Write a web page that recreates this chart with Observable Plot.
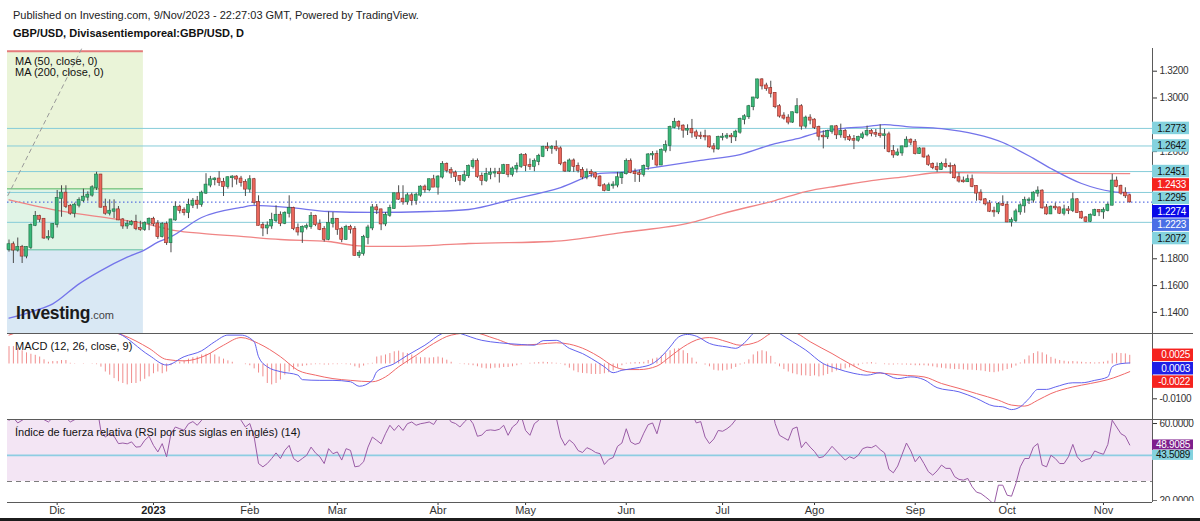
<!DOCTYPE html>
<html>
<head>
<meta charset="utf-8">
<script src="https://cdn.jsdelivr.net/npm/d3@7"></script>
<script src="https://cdn.jsdelivr.net/npm/@observablehq/plot@0.6"></script>
<style>
  html, body { margin: 0; padding: 0; background: #fff; }
  #root { position: relative; width: 1200px; height: 521px; overflow: hidden; font-family: "Liberation Sans", Arial, sans-serif; color: #111; }
  .abs { position: absolute; white-space: nowrap; }
  .hline { position: absolute; height: 1px; background: #5a5a5a; }
</style>
</head>
<body>
<div id="root">
  <div id="pricePanel" class="abs" style="left:0;top:45px;"></div>
  <div id="macdPanel" class="abs" style="left:0;top:333px;"></div>
  <div id="rsiPanel" class="abs" style="left:0;top:419px;"></div>

  <div class="abs" style="left:13px;top:8px;font-size:11px;line-height:14px;color:#222;">Published on Investing.com, 9/Nov/2023 - 22:27:03 GMT, Powered by TradingView.</div>
  <div class="abs" style="left:13px;top:26px;font-size:11px;line-height:14px;font-weight:bold;color:#111;">GBP/USD, Divisasentiemporeal:GBP/USD, D</div>

  <div class="abs" style="left:15px;top:56px;font-size:11px;line-height:11px;color:#111;">MA (50, close, 0)<br>MA (200, close, 0)</div>
  <div class="abs" style="left:15px;top:339px;font-size:11px;line-height:14px;color:#111;">MACD (12, 26, close, 9)</div>
  <div class="abs" style="left:15px;top:425px;font-size:11px;line-height:14px;color:#111;">Índice de fuerza relativa (RSI por sus siglas en inglés) (14)</div>

  <div class="abs" style="left:16px;top:303px;line-height:20px;">
    <span style="font-size:17.5px;font-weight:bold;color:#1b1b1b;letter-spacing:-0.3px;">Investing</span><span style="font-size:11px;color:#444;">.com</span>
  </div>

  <div class="hline" style="left:7px;top:333px;width:1186px;"></div>
  <div class="hline" style="left:7px;top:419px;width:1186px;"></div>
  <div class="abs" style="left:0;top:518px;width:1200px;height:3px;background:#1c1c1c;"></div>
</div>

<script>
// ------------------------------------------------------------------
// DATA
// Daily GBP/USD candles, 16 Nov 2022 -> 9 Nov 2023 (weekday bars)
// ------------------------------------------------------------------
const opens = [
1.1870,1.1905,1.1865,1.1885,1.1820,1.1885,1.2050,1.2115,1.2095,1.1955,
1.1960,1.2055,1.2250,1.2290,1.2190,1.2140,1.2200,1.2235,1.2260,1.2275,
1.2330,1.2425,1.2185,1.2140,1.2155,1.2165,1.2090,1.2045,1.2055,1.2070,
1.2025,1.2020,1.2065,1.2095,1.2060,1.1965,1.2055,1.1920,1.2090,1.2185,
1.2160,1.2145,1.2200,1.2230,1.2205,1.2290,1.2350,1.2390,1.2395,1.2370,
1.2340,1.2405,1.2410,1.2395,1.2370,1.2320,1.2390,1.2220,1.2050,1.2030,
1.2045,1.2085,1.2125,1.2065,1.2140,1.2175,1.2025,1.2000,1.2035,1.2040,
1.2115,1.2055,1.2020,1.1945,1.2065,1.2095,1.2020,1.1945,1.2035,1.2020,
1.1825,1.1840,1.1960,1.2030,1.2180,1.2165,1.2060,1.2125,1.2175,1.2285,
1.2245,1.2225,1.2270,1.2235,1.2275,1.2335,1.2315,1.2390,1.2335,1.2410,
1.2505,1.2460,1.2440,1.2415,1.2385,1.2420,1.2490,1.2525,1.2415,1.2385,
1.2430,1.2440,1.2442,1.2435,1.2495,1.2430,1.2470,1.2490,1.2570,1.2495,
1.2490,1.2525,1.2565,1.2630,1.2625,1.2630,1.2620,1.2510,1.2455,1.2530,
1.2490,1.2460,1.2410,1.2445,1.2435,1.2410,1.2345,1.2310,1.2345,1.2350,
1.2405,1.2435,1.2525,1.2445,1.2435,1.2430,1.2490,1.2575,1.2578,1.2500,
1.2610,1.2645,1.2780,1.2818,1.2790,1.2760,1.2765,1.2740,1.2715,1.2712,
1.2710,1.2635,1.2620,1.2705,1.2708,1.2715,1.2710,1.2745,1.2840,1.2860,
1.2935,1.3000,1.3135,1.3090,1.3070,1.3035,1.2935,1.2865,1.2850,1.2820,
1.2890,1.2935,1.2790,1.2850,1.2835,1.2780,1.2715,1.2710,1.2750,1.2785,
1.2725,1.2750,1.2705,1.2690,1.2685,1.2705,1.2725,1.2750,1.2735,1.2730,
1.2720,1.2725,1.2600,1.2575,1.2590,1.2635,1.2685,1.2670,1.2585,1.2620,
1.2560,1.2505,1.2480,1.2465,1.2505,1.2490,1.2488,1.2405,1.2380,1.2375,
1.2390,1.2340,1.2290,1.2240,1.2210,1.2155,1.2150,1.2205,1.2200,1.2075,
1.2085,1.2150,1.2195,1.2235,1.2238,1.2290,1.2305,1.2180,1.2135,1.2185,
1.2180,1.2140,1.2165,1.2160,1.2240,1.2145,1.2105,1.2080,1.2125,1.2160,
1.2150,1.2160,1.2200,1.2380,1.2340,1.2290,1.2270];

const highs = [
1.1940,1.1925,1.1955,1.1900,1.1890,1.2060,1.2153,1.2125,1.2100,1.2010,
1.2060,1.2310,1.2345,1.2345,1.2205,1.2215,1.2255,1.2320,1.2300,1.2345,
1.2446,1.2430,1.2245,1.2240,1.2240,1.2190,1.2100,1.2085,1.2085,1.2125,
1.2080,1.2075,1.2105,1.2110,1.2085,1.2070,1.2075,1.2095,1.2225,1.2200,
1.2180,1.2245,1.2250,1.2265,1.2305,1.2435,1.2415,1.2405,1.2450,1.2400,
1.2410,1.2420,1.2420,1.2415,1.2390,1.2420,1.2400,1.2270,1.2070,1.2075,
1.2140,1.2195,1.2150,1.2150,1.2270,1.2185,1.2060,1.2045,1.2060,1.2145,
1.2125,1.2090,1.2040,1.2150,1.2145,1.2100,1.2035,1.2050,1.2050,1.2040,
1.1860,1.1975,1.2050,1.2205,1.2205,1.2170,1.2145,1.2200,1.2290,1.2345,
1.2345,1.2290,1.2290,1.2290,1.2345,1.2350,1.2395,1.2423,1.2420,1.2525,
1.2515,1.2480,1.2455,1.2420,1.2455,1.2500,1.2545,1.2545,1.2440,1.2475,
1.2475,1.2475,1.2475,1.2505,1.2500,1.2485,1.2515,1.2585,1.2585,1.2545,
1.2545,1.2580,1.2640,1.2665,1.2645,1.2680,1.2635,1.2525,1.2545,1.2545,
1.2515,1.2480,1.2470,1.2465,1.2445,1.2420,1.2360,1.2365,1.2375,1.2445,
1.2445,1.2545,1.2545,1.2470,1.2460,1.2500,1.2585,1.2600,1.2605,1.2620,
1.2680,1.2790,1.2848,1.2830,1.2800,1.2800,1.2840,1.2760,1.2745,1.2760,
1.2715,1.2660,1.2715,1.2735,1.2735,1.2735,1.2760,1.2850,1.2875,1.2945,
1.3005,1.3140,1.3144,1.3110,1.3125,1.3040,1.2950,1.2890,1.2875,1.2895,
1.2995,1.2950,1.2865,1.2875,1.2845,1.2790,1.2755,1.2760,1.2790,1.2795,
1.2805,1.2765,1.2725,1.2720,1.2715,1.2745,1.2790,1.2765,1.2765,1.2800,
1.2765,1.2745,1.2645,1.2620,1.2640,1.2710,1.2695,1.2690,1.2630,1.2620,
1.2575,1.2515,1.2515,1.2520,1.2545,1.2515,1.2505,1.2440,1.2410,1.2425,
1.2425,1.2345,1.2315,1.2250,1.2235,1.2185,1.2220,1.2270,1.2225,1.2105,
1.2170,1.2210,1.2260,1.2255,1.2300,1.2337,1.2315,1.2205,1.2195,1.2215,
1.2185,1.2200,1.2190,1.2290,1.2250,1.2155,1.2115,1.2135,1.2170,1.2165,
1.2180,1.2215,1.2430,1.2410,1.2350,1.2330,1.2280];

const lows = [
1.1850,1.1765,1.1850,1.1765,1.1800,1.1870,1.2040,1.2070,1.1945,1.1935,
1.1945,1.2030,1.2110,1.2175,1.2125,1.2105,1.2180,1.2220,1.2230,1.2260,
1.2310,1.2180,1.2125,1.2120,1.2100,1.2085,1.2020,1.2020,1.2045,1.2010,
1.2005,1.2005,1.2010,1.2040,1.1945,1.1955,1.1900,1.1845,1.2080,1.2135,
1.2120,1.2100,1.2175,1.2170,1.2185,1.2280,1.2330,1.2345,1.2340,1.2265,
1.2320,1.2330,1.2350,1.2335,1.2265,1.2290,1.2200,1.2045,1.1965,1.1980,
1.2020,1.2070,1.2040,1.2055,1.2105,1.2010,1.1970,1.1915,1.2015,1.2020,
1.2040,1.2010,1.1925,1.1935,1.2030,1.1975,1.1920,1.1940,1.1985,1.1820,
1.1803,1.1820,1.1905,1.2010,1.2130,1.2010,1.2040,1.2110,1.2170,1.2235,
1.2200,1.2200,1.2195,1.2200,1.2260,1.2290,1.2300,1.2335,1.2275,1.2395,
1.2440,1.2400,1.2370,1.2345,1.2370,1.2400,1.2470,1.2400,1.2345,1.2370,
1.2390,1.2405,1.2365,1.2430,1.2405,1.2410,1.2440,1.2475,1.2450,1.2460,
1.2450,1.2495,1.2555,1.2600,1.2580,1.2600,1.2495,1.2445,1.2445,1.2445,
1.2440,1.2390,1.2390,1.2405,1.2390,1.2335,1.2300,1.2305,1.2320,1.2330,
1.2355,1.2425,1.2435,1.2370,1.2370,1.2410,1.2460,1.2535,1.2485,1.2495,
1.2590,1.2600,1.2770,1.2760,1.2700,1.2720,1.2700,1.2690,1.2690,1.2680,
1.2625,1.2590,1.2610,1.2680,1.2690,1.2660,1.2675,1.2730,1.2800,1.2840,
1.2905,1.2990,1.3060,1.3050,1.3000,1.2920,1.2850,1.2835,1.2800,1.2810,
1.2880,1.2760,1.2770,1.2800,1.2765,1.2680,1.2620,1.2690,1.2730,1.2690,
1.2700,1.2680,1.2675,1.2615,1.2670,1.2690,1.2710,1.2710,1.2705,1.2700,
1.2615,1.2590,1.2550,1.2565,1.2565,1.2630,1.2645,1.2575,1.2580,1.2550,
1.2490,1.2465,1.2445,1.2460,1.2475,1.2430,1.2395,1.2365,1.2365,1.2370,
1.2330,1.2230,1.2230,1.2195,1.2145,1.2110,1.2130,1.2190,1.2070,1.2037,
1.2070,1.2125,1.2140,1.2205,1.2215,1.2260,1.2170,1.2125,1.2130,1.2160,
1.2130,1.2120,1.2130,1.2145,1.2140,1.2095,1.2070,1.2070,1.2115,1.2115,
1.2095,1.2150,1.2195,1.2330,1.2275,1.2250,1.2215];

const closes = [
1.1905,1.1865,1.1885,1.1820,1.1885,1.2050,1.2115,1.2095,1.1955,1.1960,
1.2055,1.2250,1.2290,1.2190,1.2140,1.2200,1.2235,1.2260,1.2275,1.2330,
1.2425,1.2185,1.2140,1.2155,1.2165,1.2090,1.2045,1.2055,1.2070,1.2025,
1.2020,1.2065,1.2095,1.2060,1.1965,1.2055,1.1920,1.2090,1.2185,1.2160,
1.2145,1.2200,1.2230,1.2205,1.2290,1.2350,1.2390,1.2395,1.2370,1.2340,
1.2405,1.2410,1.2395,1.2370,1.2320,1.2390,1.2220,1.2050,1.2030,1.2045,
1.2085,1.2125,1.2065,1.2140,1.2175,1.2025,1.2000,1.2035,1.2040,1.2115,
1.2055,1.2020,1.1945,1.2065,1.2095,1.2020,1.1945,1.2035,1.2020,1.1825,
1.1840,1.1960,1.2030,1.2180,1.2165,1.2060,1.2125,1.2175,1.2285,1.2245,
1.2225,1.2270,1.2235,1.2275,1.2335,1.2315,1.2390,1.2335,1.2410,1.2505,
1.2460,1.2440,1.2415,1.2385,1.2420,1.2490,1.2525,1.2415,1.2385,1.2430,
1.2440,1.2442,1.2435,1.2495,1.2430,1.2470,1.2490,1.2570,1.2495,1.2490,
1.2525,1.2565,1.2630,1.2625,1.2630,1.2620,1.2510,1.2455,1.2530,1.2490,
1.2460,1.2410,1.2445,1.2435,1.2410,1.2345,1.2310,1.2345,1.2350,1.2405,
1.2435,1.2525,1.2445,1.2435,1.2430,1.2490,1.2575,1.2578,1.2500,1.2610,
1.2645,1.2780,1.2818,1.2790,1.2760,1.2765,1.2740,1.2715,1.2712,1.2710,
1.2635,1.2620,1.2705,1.2708,1.2715,1.2710,1.2745,1.2840,1.2860,1.2935,
1.3000,1.3135,1.3090,1.3070,1.3035,1.2935,1.2865,1.2850,1.2820,1.2890,
1.2935,1.2790,1.2850,1.2835,1.2780,1.2715,1.2710,1.2750,1.2785,1.2725,
1.2750,1.2705,1.2690,1.2685,1.2705,1.2725,1.2750,1.2735,1.2730,1.2720,
1.2725,1.2600,1.2575,1.2590,1.2635,1.2685,1.2670,1.2585,1.2620,1.2560,
1.2505,1.2480,1.2465,1.2505,1.2490,1.2488,1.2405,1.2380,1.2375,1.2390,
1.2340,1.2290,1.2240,1.2210,1.2155,1.2150,1.2205,1.2200,1.2075,1.2085,
1.2150,1.2195,1.2235,1.2238,1.2290,1.2305,1.2180,1.2135,1.2185,1.2180,
1.2140,1.2165,1.2160,1.2240,1.2145,1.2105,1.2080,1.2125,1.2160,1.2150,
1.2160,1.2200,1.2380,1.2340,1.2290,1.2270,1.2225];

// Moving averages, sampled along the drawn curves (bar index, price)
const ma50Bars = [0,6,10,16,21,27,31,34,37,44,53,56,64,73,83,96,105,115,126,135,140,146,158,167,175,181,185,190,196,200,205,213,227,234,238,245,252,256];
const ma50Vals = [1.1357,1.1414,1.1464,1.1613,1.1712,1.1812,1.1867,1.1924,1.1965,1.2108,1.2183,1.2198,1.2183,1.2153,1.2146,1.2153,1.2168,1.2243,1.2332,1.2437,1.2444,1.2474,1.2534,1.2578,1.2660,1.2705,1.2743,1.2772,1.2787,1.2802,1.2787,1.2772,1.2668,1.2549,1.2474,1.2362,1.2302,1.2292];
const ma200Bars = [0,12,24,31,38,44,53,62,73,79,85,96,105,124,140,156,163,175,182,190,197,205,213,227,256];
const ma200Vals = [1.2240,1.2155,1.2098,1.2063,1.2011,1.1989,1.1967,1.1944,1.1929,1.1899,1.1892,1.1899,1.1914,1.1929,1.1996,1.2071,1.2138,1.2235,1.2302,1.2347,1.2384,1.2414,1.2444,1.2440,1.2436];

// Drawings on the price pane
const hLevels = [1.2773, 1.2642, 1.2451, 1.2295, 1.2072];
const lastPrice = 1.2223;
const positionBars = [-0.343, 30.7];
const positionLevels = [1.3349, 1.2322, 1.1867];
const trendBars = [-0.27, 16.7];
const trendPrices = [1.2272, 1.3375];

// Price axis (values hidden under the tags are not printed)
const priceTicks = [1.14, 1.16, 1.18, 1.26, 1.30, 1.32];
const priceTags = [1.2773, 1.2642, 1.2451, 1.2433, 1.2295, 1.2274, 1.2223, 1.2072];
const priceTagFill = ["#84d2de","#84d2de","#84d2de","#f5231f","#84d2de","#0808e8","#4a6fe6","#84d2de"];
const priceTagInk = ["#111","#111","#111","#fff","#111","#fff","#fff","#111"];

// MACD (units of 0.0001)
const macdHist = [
50,50,45,38,32,28,25,20,12,5,
7,7,10,10,2,1,0,-1,0,-1,
-2,-9,-23,-32,-42,-51,-56,-60,-56,-56,
-51,-44,-37,-28,-23,-28,-23,-5,2,5,
9,14,18,20,26,28,30,26,20,14,
9,5,0,0,-2,-5,-14,-26,-37,-56,
-60,-56,-46,-32,-23,-17,-9,-7,-5,-3,
-2,-2,-3,-3,-2,-2,-1,-2,-3,-8,
-12,-6,-2,2,20,23,26,30,35,37,
32,30,26,20,18,18,17,18,20,17,
11,5,0,-1,-2,-3,-5,-8,-12,-14,
-14,-12,-12,-10,-10,-8,-5,-2,0,2,
3,4,5,4,3,2,-1,-5,-12,-20,
-25,-27,-28,-30,-30,-30,-28,-25,-20,-11,
-5,2,3,4,4,5,10,14,17,23,
30,38,43,44,38,30,17,5,0,-3,
-8,-18,-20,-20,-18,-15,-10,-3,3,12,
26,35,38,35,22,3,-8,-16,-23,-28,
-31,-34,-34,-36,-34,-37,-34,-30,-25,-20,
-18,-14,-11,-8,-5,2,3,4,2,0,
-2,-3,-3,-2,-3,-3,-4,-5,-5,-5,
-6,-8,-11,-12,-14,-15,-16,-16,-17,-18,
-18,-19,-20,-22,-24,-25,-23,-20,-16,-12,
-6,3,12,23,30,35,32,26,19,14,
10,8,6,7,6,5,4,4,3,4,
5,8,29,31,30,29,25];
const macdBars = [0,5,10,15,20,25,32,36,40,44,47,50,53,56,57,59,62,66,67,71,74,78,80,83,84,88,91,95,99,101,103,108,112,117,120,122,125,128,131,133,136,138,140,144,147,149,151,153,155,157,160,164,166,168,170,173,176,179,182,186,189,193,196,199,203,206,209,212,217,221,225,227,229,231,233,235,237,239,243,245,248,251,252,254,256];
const macdVals = [133,140,132,118,102,88,25,-3,21,38,64,83,83,64,21,-8,-22,-32,-45,-47,-47,-51,-64,-47,-22,1,25,54,88,95,88,68,61,56,54,67,68,45,30,16,-8,-25,-18,-10,1,21,49,78,85,80,59,49,45,61,88,115,88,64,40,1,-13,-27,-32,-25,-42,-37,-45,-68,-80,-99,-121,-123,-131,-123,-99,-73,-73,-66,-54,-54,-47,-37,-8,1,3];
const signalBars = [0,3,8,14,20,26,32,36,40,45,49,53,57,62,66,70,74,78,83,86,89,93,97,101,106,111,116,121,125,128,132,135,138,141,144,148,151,154,158,160,164,167,171,174,177,180,183,188,192,196,200,204,209,213,217,221,226,229,232,235,238,243,247,251,256];
const signalVals = [83,95,105,110,100,83,45,13,9,25,54,76,59,21,-18,-32,-42,-47,-51,-37,-8,25,59,83,90,73,54,57,61,57,40,19,-6,-16,-16,-6,21,49,73,76,64,54,64,88,100,88,64,30,1,-22,-27,-32,-37,-56,-70,-85,-104,-118,-121,-104,-85,-66,-56,-45,-22];
const macdTicks = [-100];
const macdTags = [25, 3, -22];
const macdTagFill = ["#f5231f", "#1e1ee6", "#f5231f"];

// RSI (14)
const rsiVals = [
61.7,63,60.3,61.7,63,67,69,67,62,60.8,
63,66,67,63,60.8,62,64,65,66,68,
70,56,53,54.7,53.4,49.6,49.9,49.5,50.5,47.8,
48,51.3,53.4,48.7,45.3,49.6,42.8,54.7,58.2,57.3,
56.5,59.9,61,59.1,61.7,66,68,68,66,63,
66,66,65,61.7,58.2,60,53,39.3,37.6,39.3,
41.9,44.8,41.9,46.1,48.7,41.9,40.2,41.9,43.6,47.8,
44.8,42.8,39.3,47,44.4,45.3,41.1,47,46.1,37.6,
38,40.2,47.8,53,51.3,49.5,54.7,59.1,56.4,59.1,
56.4,59.9,60.8,59.1,59.9,60.3,60.8,59.5,63,66,
64,60.8,60,58.2,60.8,63,59.9,53.4,54,56.4,
56.7,56.4,57,59.1,53.9,58.2,60,64,56.4,53.9,
59.9,61.7,64,63.5,64,63,53,48.7,51.5,49.6,
46,45,47.5,46.5,45,44.4,38.8,41.4,42.4,48.2,
49.9,57.3,50.5,49.2,49.9,55,59.4,60.3,54.7,63,
67,72,73,70,68,68,65,60.3,61,53,
49.6,52,56.4,56,57.3,59.1,62,66,68,71,
74,79,76,74,72,60,53.9,52.6,51.3,57.3,
58.2,47.5,50.5,47.8,45.5,42.3,42.8,45.3,48.2,45.8,
43.5,41.1,42.8,41.9,43.6,47,47.8,47.5,48.7,46.5,
44.8,36.3,34.5,38,44,49.9,45.8,40.2,43.1,39.3,
35.1,33.3,35.5,38.5,36.8,36.8,32.5,31.1,30.7,31.6,
27.3,24.5,23.8,22.1,20.3,18,28.1,28.1,22.9,22.4,
29,37.6,41.9,41.9,47.8,49.6,38.5,37.6,43.6,41.9,
39.3,39.3,42.8,49.2,42.8,40.2,41.4,41.9,45.8,44.8,
44.1,49.2,61.7,58.2,54.7,53.4,48.9];
const rsiBand = [30, 70];
const rsiLevel = 43.5089;
const rsiTicks = [60, 20];
const rsiTags = [48.9085, 43.5089];
const rsiTagFill = ["#7e1f8c", "#84d2de"];
const rsiTagInk = ["#fff", "#111"];

// Time axis
const monthBars = [11, 33, 55, 75, 98, 118, 141, 163, 184, 207, 228, 250];
const monthLabels = ["Dic", "2023", "Feb", "Mar", "Abr", "May", "Jun", "Jul", "Ago", "Sep", "Oct", "Nov"];

// ------------------------------------------------------------------
// CHART
// ------------------------------------------------------------------
const X_DOMAIN = [-0.343, 261.2];
const FONT = "'Liberation Sans', Arial, sans-serif";
const baseStyle = {fontFamily: FONT, fontSize: "11px", background: "transparent", color: "#333", overflow: "visible"};
const frame = {width: 1200, marginLeft: 7, marginRight: 48};
const SCALE_FONT = 10;

const candles = closes.map((c, i) => ({
  i, o: opens[i], c,
  h: Math.max(highs[i], opens[i], c),
  l: Math.min(lows[i], opens[i], c)
}));
const upC = candles.filter(d => d.c >= d.o);
const dnC = candles.filter(d => d.c < d.o);
const half = 0.34;
const ma50 = ma50Bars.map((b, k) => ({b, v: ma50Vals[k]}));
const ma200 = ma200Bars.map((b, k) => ({b, v: ma200Vals[k]}));
const trend = trendBars.map((b, k) => ({b, v: trendPrices[k]}));
const PRICE_DOMAIN = [1.12425, 1.33694];

const price = Plot.plot({
  ...frame, height: 288, marginTop: 3, marginBottom: 0,
  x: {domain: X_DOMAIN, axis: null},
  y: {domain: PRICE_DOMAIN, axis: null},
  style: baseStyle,
  marks: [
    // long-position drawing on the left
    Plot.rect([0], {x1: () => positionBars[0], x2: () => positionBars[1], y1: () => positionLevels[1], y2: () => positionLevels[0], fill: "#eaf4d8"}),
    Plot.rect([0], {x1: () => positionBars[0], x2: () => positionBars[1], y1: () => positionLevels[2], y2: () => positionLevels[1], fill: "#e0f4e6"}),
    Plot.rect([0], {x1: () => positionBars[0], x2: () => positionBars[1], y1: () => PRICE_DOMAIN[0], y2: () => positionLevels[2], fill: "#d9e8f4"}),
    Plot.ruleY(hLevels, {stroke: "#86ccd9", strokeWidth: 1}),
    Plot.ruleY([positionLevels[0]], {x1: () => positionBars[0], x2: () => positionBars[1], stroke: "#e57b7b", strokeWidth: 2}),
    Plot.ruleY([positionLevels[1]], {x1: () => positionBars[0], x2: () => positionBars[1], stroke: "#55b45c", strokeWidth: 1}),
    Plot.ruleY([positionLevels[2]], {x1: () => positionBars[0], x2: () => positionBars[1], stroke: "#5fbf9c", strokeWidth: 1}),
    Plot.line(trend, {x: "b", y: "v", stroke: "#9a9a9a", strokeDasharray: "4,4", strokeWidth: 1, clip: true}),
    Plot.ruleY([lastPrice], {stroke: "#3550dd", strokeDasharray: "1.5,2.5", strokeWidth: 1}),
    Plot.line(ma200, {x: "b", y: "v", curve: "monotone-x", stroke: "#f08585", strokeWidth: 1.3, clip: true}),
    Plot.line(ma50, {x: "b", y: "v", curve: "monotone-x", stroke: "#7474ea", strokeWidth: 1.3, clip: true}),
    // candles
    Plot.ruleX(candles, {x: "i", y1: "l", y2: "h", stroke: "#4a4a4a", strokeWidth: 1}),
    Plot.rect(upC, {x1: d => d.i - half, x2: d => d.i + half, y1: "o", y2: "c", fill: "#39b878", stroke: "#1d6b43", strokeWidth: 0.6, insetTop: -0.5, insetBottom: -0.5}),
    Plot.rect(dnC, {x1: d => d.i - half, x2: d => d.i + half, y1: "o", y2: "c", fill: "#ea675c", stroke: "#8a2b24", strokeWidth: 0.6, insetTop: -0.5, insetBottom: -0.5}),
    Plot.axisY({anchor: "right", ticks: priceTicks, tickFormat: d => d.toFixed(4), tickSize: 4, tickPadding: 3, fontSize: SCALE_FONT, label: null}),
    Plot.ruleX([X_DOMAIN[1]], {stroke: "#5a5a5a"})
  ]
});
document.getElementById("pricePanel").appendChild(price);

const hist = macdHist.map((v, i) => ({i, v}));
const macdLine = macdBars.map((b, k) => ({b, v: macdVals[k]}));
const signalLine = signalBars.map((b, k) => ({b, v: signalVals[k]}));

const macd = Plot.plot({
  ...frame, height: 86, marginTop: 0, marginBottom: 0,
  x: {domain: X_DOMAIN, axis: null},
  y: {domain: [-159.48, 87.64], axis: null},
  style: baseStyle,
  marks: [
    Plot.ruleX(hist, {x: "i", y1: () => 0, y2: "v", stroke: "#f08c8c", strokeWidth: 1, clip: true}),
    Plot.line(signalLine, {x: "b", y: "v", curve: "monotone-x", stroke: "#f06868", strokeWidth: 1, clip: true}),
    Plot.line(macdLine, {x: "b", y: "v", curve: "monotone-x", stroke: "#6262ee", strokeWidth: 1, clip: true}),
    Plot.axisY({anchor: "right", ticks: macdTicks, tickFormat: d => (d / 10000).toFixed(4), tickSize: 4, tickPadding: 3, fontSize: SCALE_FONT, label: null}),
    Plot.ruleX([X_DOMAIN[1]], {stroke: "#5a5a5a"})
  ]
});
document.getElementById("macdPanel").appendChild(macd);

const RSI_DOMAIN = [19.14, 62.08];
const rsi = Plot.plot({
  ...frame, height: 102, marginTop: 0, marginBottom: 19,
  x: {domain: X_DOMAIN, axis: null},
  y: {domain: RSI_DOMAIN, axis: null},
  style: baseStyle,
  marks: [
    Plot.rect([rsiBand], {x1: () => X_DOMAIN[0], x2: () => X_DOMAIN[1], y1: d => d[0], y2: d => d[1], fill: "#f3e5f4", clip: true}),
    Plot.ruleY([rsiBand[0]], {stroke: "#7d7d7d", strokeDasharray: "5,4", strokeWidth: 1}),
    Plot.ruleY([rsiLevel], {stroke: "#8dcde2", strokeWidth: 1.6}),
    Plot.line(rsiVals, {x: (d, i) => i, y: d => d, stroke: "#9a5ca6", strokeWidth: 1, clip: true}),
    Plot.axisY({anchor: "right", ticks: rsiTicks, tickFormat: d => d.toFixed(4), tickSize: 4, tickPadding: 3, fontSize: SCALE_FONT, label: null}),
    Plot.axisX({ticks: monthBars, tickFormat: b => monthLabels[monthBars.indexOf(b)], tickSize: 3, tickPadding: 1, fontSize: 11, label: null}),
    Plot.ruleY([RSI_DOMAIN[0]], {stroke: "#5a5a5a"}),
    Plot.ruleX([X_DOMAIN[1]], {stroke: "#5a5a5a"})
  ]
});
document.getElementById("rsiPanel").appendChild(rsi);

// bold year label
d3.select(rsi).selectAll("text").filter(function () { return this.textContent === "2023"; })
  .attr("font-weight", "bold").attr("fill", "#222");

// narrow the right-scale numbers a little, like the original scale font
for (const p of [price, macd, rsi]) {
  d3.select(p).selectAll("text").filter(function () { return /^-?\d+\.\d{4}$/.test(this.textContent); })
    .attr("letter-spacing", "-0.3");
}

// value tags on the right scale, stacked so they do not overlap
function addTags(plot, values, texts, fills, inks, gap, h, w) {
  const y = plot.scale("y"), x = plot.scale("x");
  const x0 = x.apply(X_DOMAIN[1]);
  const items = values.map((v, k) => ({y: y.apply(v), t: texts[k], f: fills[k], c: inks[k]}))
    .sort((a, b) => a.y - b.y);
  for (let k = 1; k < items.length; k++) if (items[k].y < items[k - 1].y + gap) items[k].y = items[k - 1].y + gap;
  const g = d3.select(plot).append("g").attr("text-anchor", "end");
  for (const it of items) {
    g.append("rect").attr("x", x0).attr("y", it.y - h / 2).attr("width", w).attr("height", h).attr("fill", it.f);
    g.append("text").attr("x", x0 + w - 3).attr("y", it.y).attr("dy", "0.36em").attr("text-anchor", "end")
      .attr("fill", it.c).attr("font-size", SCALE_FONT).attr("letter-spacing", "-0.3").attr("font-family", FONT).text(it.t);
  }
}
addTags(price, priceTags, priceTags.map(v => v.toFixed(4)), priceTagFill, priceTagInk, 13.4, 12.5, 37);
addTags(macd, macdTags, macdTags.map(v => (v / 10000).toFixed(4)), macdTagFill, ["#fff", "#fff", "#fff"], 13.4, 12.5, 41);
addTags(rsi, rsiTags, rsiTags.map(v => v.toFixed(4)), rsiTagFill, rsiTagInk, 9.6, 10, 41);

// the lowest RSI scale value is cut by the pane edge
d3.select(rsi).append("rect").attr("x", 1153).attr("y", 82).attr("width", 47).attr("height", 20).attr("fill", "#fff");
</script>
</body>
</html>
